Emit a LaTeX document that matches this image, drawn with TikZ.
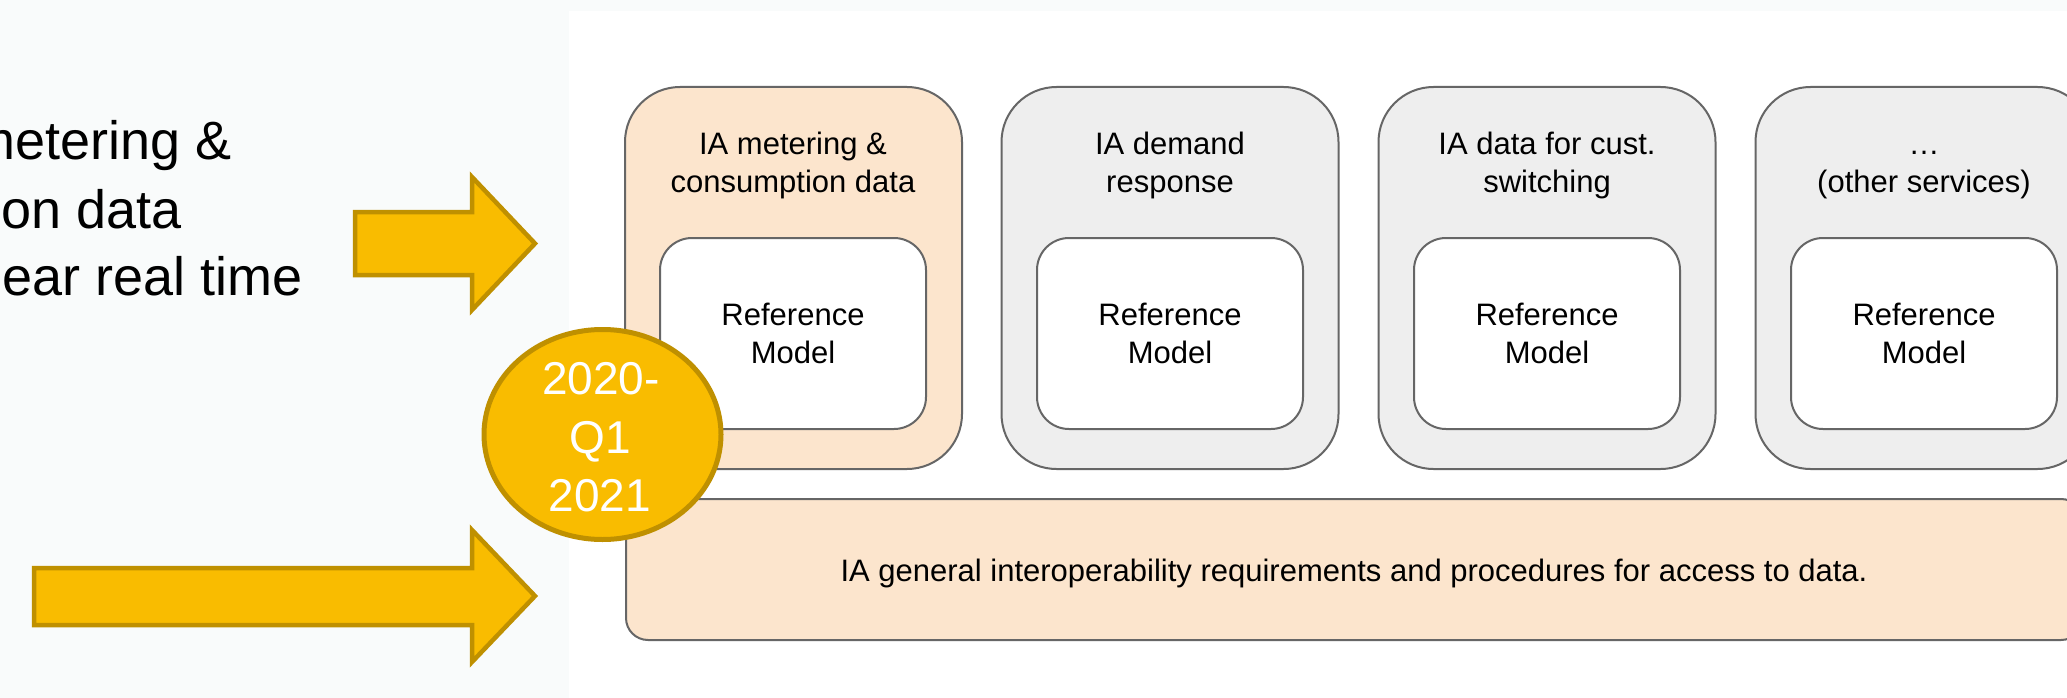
\documentclass[tikz,border=0pt]{standalone}
\usepackage{fontspec}
\setmainfont{Liberation Sans}
\usetikzlibrary{shapes.geometric}

\definecolor{panelbg}{RGB}{249,251,251}
\definecolor{gold}{RGB}{249,188,0}
\definecolor{golddark}{RGB}{191,144,0}
\definecolor{peach}{RGB}{252,229,205}
\definecolor{lightgrey}{RGB}{238,238,238}
\definecolor{edgegrey}{RGB}{102,102,102}

\begin{document}
\begin{tikzpicture}[x=1pt,y=-1pt,
  service/.style={draw=edgegrey, line width=2pt, rounded corners=55pt,
    minimum width=337pt, minimum height=382pt, inner sep=0pt, outer sep=0pt},
  refbox/.style={draw=edgegrey, fill=white, line width=2pt, rounded corners=32pt,
    minimum width=266pt, minimum height=191pt, inner sep=0pt, outer sep=0pt},
  boxtext/.style={font=\fontsize{31}{38}\selectfont, inner sep=0pt, anchor=base},
  lefttext/.style={font=\fontsize{54}{68}\selectfont, inner sep=0pt, anchor=base east},
  yeartext/.style={font=\fontsize{46}{59}\selectfont, text=white, inner sep=0pt, anchor=base},
  blockarrow/.style={fill=gold, draw=golddark, line width=4.5pt, line join=miter},
]
\useasboundingbox (0,0) rectangle (2067,698);
\clip (0,0) rectangle (2067,698);

% backgrounds
\fill[panelbg] (0,0) rectangle (2067,698);
\fill[white] (569,11) rectangle (2067,698);

% left-hand caption, running in from the left edge
\node[lefttext] (cap1) at (232,160) {metering \&};
\node[lefttext] (cap2) at (182,228) {consumption data};
\node[lefttext] (cap3) at (303,295) {near real time};

% block arrows
\draw[blockarrow] (355,212) -- (472,212) -- (472,177) -- (535,243.5)
  -- (472,310) -- (472,275) -- (355,275) -- cycle;
\draw[blockarrow] (34,568) -- (472,568) -- (472,530) -- (535,596)
  -- (472,662) -- (472,625) -- (34,625) -- cycle;

% service columns
\node[service, fill=peach]     (s1) at (793.5,278) {};
\node[service, fill=lightgrey] (s2) at (1170,278) {};
\node[service, fill=lightgrey] (s3) at (1547,278) {};
\node[service, fill=lightgrey] (s4) at (1924,278) {};

\node[refbox] (r1) at (793,333.5) {};
\node[refbox] (r2) at (1170,333.5) {};
\node[refbox] (r3) at (1547,333.5) {};
\node[refbox] (r4) at (1924,333.5) {};

% column titles
\node[boxtext] (t1a) at (793,155) {IA metering \&};
\node[boxtext] (t1b) at (793,193) {consumption data};
\node[boxtext] (t2a) at (1170,155) {IA demand};
\node[boxtext] (t2b) at (1170,193) {response};
\node[boxtext] (t3a) at (1547,155) {IA data for cust.};
\node[boxtext] (t3b) at (1547,193) {switching};
\node[boxtext] (t4a) at (1924,155) {…};
\node[boxtext] (t4b) at (1924,193) {(other services)};

% reference model labels
\foreach \cx/\n in {793/1,1170/2,1547/3,1924/4}{
  \node[boxtext] (rm\n a) at (\cx,325) {Reference};
  \node[boxtext] (rm\n b) at (\cx,363) {Model};
}

% common base layer
\node[draw=edgegrey, fill=peach, line width=2pt, rounded corners=22pt,
  minimum width=1457pt, minimum height=141pt, inner sep=0pt] (base) at (1354.5,569.5) {};
\node[boxtext] (basetext) at (1354,581)
  {IA general interoperability requirements and procedures for access to data.};

% time frame badge
\node[ellipse, draw=golddark, fill=gold, line width=5pt,
  minimum width=237pt, minimum height=210pt, inner sep=0pt] (period) at (602.5,434.5) {};
\node[yeartext] (y1) at (601,394) {2020-};
\node[yeartext] (y2) at (600,453) {Q1};
\node[yeartext] (y3) at (600,511) {2021};
\end{tikzpicture}
\end{document}
